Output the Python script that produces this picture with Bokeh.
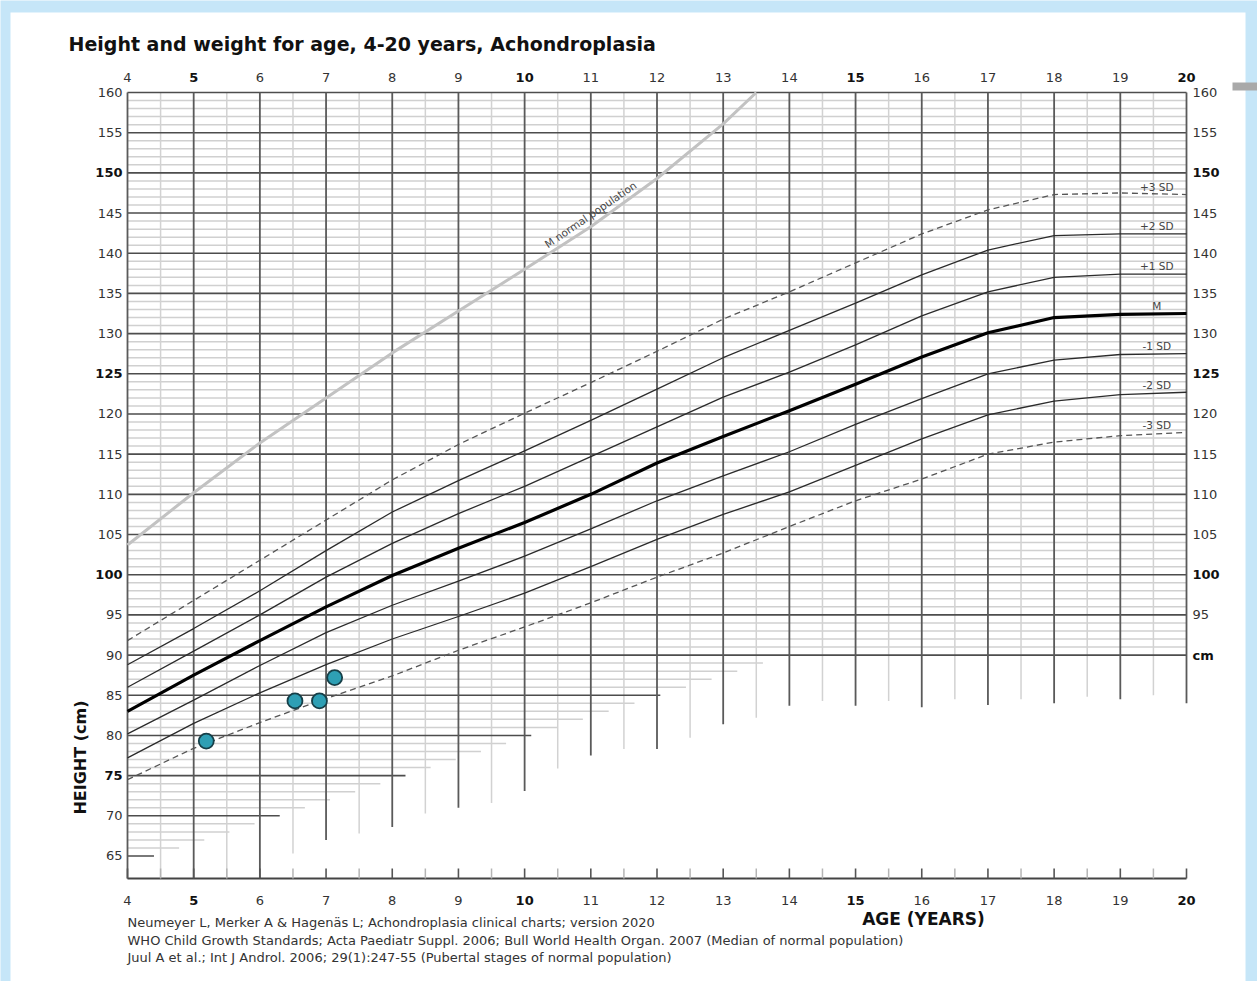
import numpy as np
from bokeh.plotting import figure
from bokeh.models import Range1d
from bokeh.core.properties import value
from bokeh.embed import file_html
from bokeh.resources import INLINE

# ---------------- data ----------------
TITLE = "Height and weight for age, 4-20 years, Achondroplasia"
ages = list(range(4, 21))
sd_plus3 = [91.8, 96.8, 101.8, 106.8, 111.8, 116.2, 120.1, 123.9, 127.8, 131.8, 135.2, 138.8, 142.4, 145.4, 147.3, 147.5, 147.3]
sd_plus2 = [88.8, 93.3, 98.0, 103.0, 107.8, 111.7, 115.4, 119.2, 123.1, 127.0, 130.4, 133.8, 137.3, 140.4, 142.2, 142.4, 142.4]
sd_plus1 = [86.0, 90.5, 95.0, 99.7, 103.9, 107.6, 111.0, 114.7, 118.4, 122.1, 125.2, 128.6, 132.2, 135.2, 137.0, 137.4, 137.4]
median = [83.0, 87.5, 91.8, 96.0, 99.9, 103.3, 106.5, 110.0, 113.9, 117.2, 120.4, 123.7, 127.1, 130.1, 132.0, 132.4, 132.5]
sd_minus1 = [80.2, 84.4, 88.7, 92.8, 96.2, 99.2, 102.3, 105.7, 109.2, 112.3, 115.3, 118.7, 121.9, 125.0, 126.7, 127.4, 127.5]
sd_minus2 = [77.2, 81.5, 85.3, 88.8, 92.0, 94.8, 97.7, 101.0, 104.4, 107.5, 110.3, 113.6, 116.9, 119.9, 121.6, 122.4, 122.7]
sd_minus3 = [74.5, 78.4, 81.6, 84.6, 87.4, 90.6, 93.5, 96.5, 99.7, 102.7, 106.0, 109.2, 111.9, 115.0, 116.5, 117.3, 117.7]
sd_names = ["+3 SD", "+2 SD", "+1 SD", "M", "-1 SD", "-2 SD", "-3 SD"]

# median of normal population (visible until it leaves the chart at 160 cm)
normal_ages = [4, 5, 6, 7, 8, 9, 10, 11, 12, 13, 13.5]
normal_median = [103.7, 110.2, 116.4, 122.0, 127.6, 132.8, 138.0, 143.3, 149.3, 156.1, 160.0]

patient_age = [5.19, 6.53, 6.90, 7.13]
patient_height = [79.3, 84.3, 84.3, 87.2]

x_bold = [5, 10, 15, 20]
left_ticks = list(range(65, 161, 5))
right_ticks = list(range(95, 161, 5))
y_bold = [75, 100, 125, 150]

# grid: heights every cm; lower-left staircase cut-off of horizontal lines
grid_heights = list(range(65, 161))
cut_heights = [65, 70, 75, 80, 85, 89]
cut_ends = [4.4, 6.3, 8.2, 10.1, 12.05, 13.6]
grid_ages = [4.0 + 0.5 * i for i in range(33)]
grid_age_bottom = [62.2, 62.2, 62.2, 62.2, 62.2, 65.3, 67.0, 67.8, 68.6, 70.3, 71.0, 71.6, 73.1,
                   75.9, 77.5, 78.3, 78.3, 79.7, 81.4, 82.2, 83.7, 84.3, 83.7, 84.3, 83.5, 84.5,
                   83.8, 84.5, 84.0, 84.8, 84.5, 85.0, 84.0]

references = [
    "Neumeyer L, Merker A & Hagen\u00e4s L; Achondroplasia clinical charts; version 2020",
    "WHO Child Growth Standards; Acta Paediatr Suppl. 2006; Bull World Health Organ. 2007 (Median of normal population)",
    "Juul A et al.; Int J Androl. 2006; 29(1):247-55 (Pubertal stages of normal population)",
]

# ---------------- layout (pixel geometry of the chart area) ----------------
W, H = 1257, 981
FONT = "DejaVu Sans"
Y0, Y1 = 62.2, 160.0
PX_L, PX_R, PY_T, PY_B = 127, 1186, 92, 878
KX = (PX_R - PX_L) / 16.0
KY = (PY_B - PY_T) / (Y1 - Y0)


def ax(px):
    return 4 + (px - PX_L) / KX


def ay(py):
    return Y1 - (py - PY_T) / KY


p = figure(width=W, height=H, x_range=Range1d(ax(0), ax(W)), y_range=Range1d(ay(H), ay(0)),
           x_axis_location=None, y_axis_location=None, output_backend="svg",
           toolbar_location=None, min_border=0)
p.grid.visible = False
p.outline_line_color = None
p.background_fill_color = "#c6e6f8"
p.border_fill_color = "#c6e6f8"

# white page panel + small grey tab at the right
p.quad(left=[ax(10)], right=[ax(1245)], bottom=[ay(H)], top=[ay(12)], fill_color="white", line_color=None)
p.quad(left=[ax(1232)], right=[ax(W)], bottom=[ay(90)], top=[ay(82)], fill_color="#a9a9a9", line_color=None)

# ---------------- grid ----------------
h_end = [20.0 if h >= 90 else float(np.interp(h, cut_heights, cut_ends)) for h in grid_heights]
minor_h = [(h, e) for h, e in zip(grid_heights, h_end) if h % 5 != 0]
major_h = [(h, e) for h, e in zip(grid_heights, h_end) if h % 5 == 0]
p.segment(x0=[4] * len(minor_h), y0=[h for h, _ in minor_h], x1=[e for _, e in minor_h],
          y1=[h for h, _ in minor_h], line_color="#d0d0d0", line_width=1.5)
half_v = [(a, b) for a, b in zip(grid_ages, grid_age_bottom) if a != int(a)]
full_v = [(a, b) for a, b in zip(grid_ages, grid_age_bottom) if a == int(a)]
p.segment(x0=[a for a, _ in half_v], y0=[b for _, b in half_v], x1=[a for a, _ in half_v],
          y1=[Y1] * len(half_v), line_color="#d2d2d2", line_width=1.5)
p.segment(x0=[4] * len(major_h), y0=[h for h, _ in major_h], x1=[e for _, e in major_h],
          y1=[h for h, _ in major_h], line_color="#4d4d4d", line_width=1.6)
p.segment(x0=[a for a, _ in full_v], y0=[b for _, b in full_v], x1=[a for a, _ in full_v],
          y1=[Y1] * len(full_v), line_color="#5a5a5a", line_width=1.8)

# bottom axis line and inward ticks
tick_len = 10 / KY
p.segment(x0=[4], y0=[Y0], x1=[20], y1=[Y0], line_color="#444444", line_width=1.8)
p.segment(x0=[a for a, _ in half_v], y0=[Y0] * len(half_v), x1=[a for a, _ in half_v],
          y1=[Y0 + tick_len] * len(half_v), line_color="#b5b5b5", line_width=1.5)
p.segment(x0=[a for a, _ in full_v], y0=[Y0] * len(full_v), x1=[a for a, _ in full_v],
          y1=[Y0 + tick_len] * len(full_v), line_color="#555555", line_width=1.6)

# ---------------- curves ----------------
p.line(normal_ages, normal_median, line_color="#c2c2c2", line_width=3)
for ys, w, c, dash in [(sd_plus3, 1.3, "#555555", "6 4"), (sd_plus2, 1.3, "#2b2b2b", "solid"),
                       (sd_plus1, 1.3, "#2b2b2b", "solid"), (median, 3.2, "#000000", "solid"),
                       (sd_minus1, 1.3, "#2b2b2b", "solid"), (sd_minus2, 1.3, "#2b2b2b", "solid"),
                       (sd_minus3, 1.3, "#555555", "6 4")]:
    p.line(ages, ys, line_color=c, line_width=w, line_dash=dash)

p.scatter(patient_age, patient_height, size=15, fill_color="#2e9fb4", line_color="#163f48", line_width=1.8)


# ---------------- text ----------------
def txt(xs, ys, texts, bold=False, align="center", size="13px", color="#333333", baseline="middle", angle=0.0):
    p.text(x=xs, y=ys, text=texts, text_align=align, text_baseline=baseline,
           text_font=value(FONT), text_font_size=size, text_color=color,
           text_font_style="bold" if bold else "normal", angle=angle)


norm_x = [a for a in ages if a not in x_bold]
bold_x = [a for a in ages if a in x_bold]
for yy in (ay(77), ay(900)):
    txt(norm_x, [yy] * len(norm_x), [str(a) for a in norm_x])
    txt(bold_x, [yy] * len(bold_x), [str(a) for a in bold_x], bold=True, color="#111111")

ln = [t for t in left_ticks if t not in y_bold]
lb = [t for t in left_ticks if t in y_bold]
txt([ax(122)] * len(ln), ln, [str(t) for t in ln], align="right")
txt([ax(122)] * len(lb), lb, [str(t) for t in lb], bold=True, align="right", color="#111111")
rn = [t for t in right_ticks if t not in y_bold]
rb = [t for t in right_ticks if t in y_bold]
txt([ax(1192)] * len(rn), rn, [str(t) for t in rn], align="left")
txt([ax(1192)] * (len(rb) + 1), rb + [90], [str(t) for t in rb] + ["cm"], bold=True, align="left", color="#111111")

# SD labels just above curve ends
ends = [sd_plus3[-1], sd_plus2[-1], sd_plus1[-1], median[-1], sd_minus1[-1], sd_minus2[-1], sd_minus3[-1]]
txt([19.55] * 7, [e + 0.95 for e in ends], sd_names, size="10.5px", color="#444444")

# label along the normal-population median, parallel to its 10-12 y segment
i10, i12 = normal_ages.index(10), normal_ages.index(12)
slope_px = (normal_median[i12] - normal_median[i10]) / 2 * KY / KX
txt([ax(590)], [ay(214)], ["M normal population"], size="10.5px", color="#444444",
    angle=float(np.arctan(slope_px)))

txt([ax(68)], [ay(43)], [TITLE], bold=True, align="left", size="19px", color="#111111")
txt([ax(80)], [ay(757)], ["HEIGHT (cm)"], bold=True, size="16px", color="#111111", angle=float(np.pi / 2))
txt([ax(923)], [ay(918)], ["AGE (YEARS)"], bold=True, size="17px", color="#111111")
txt([4.0] * 3, [ay(922), ay(940), ay(957)], references, align="left", size="13px", color="#333333")

open("out.html", "w").write(file_html(p, INLINE))
